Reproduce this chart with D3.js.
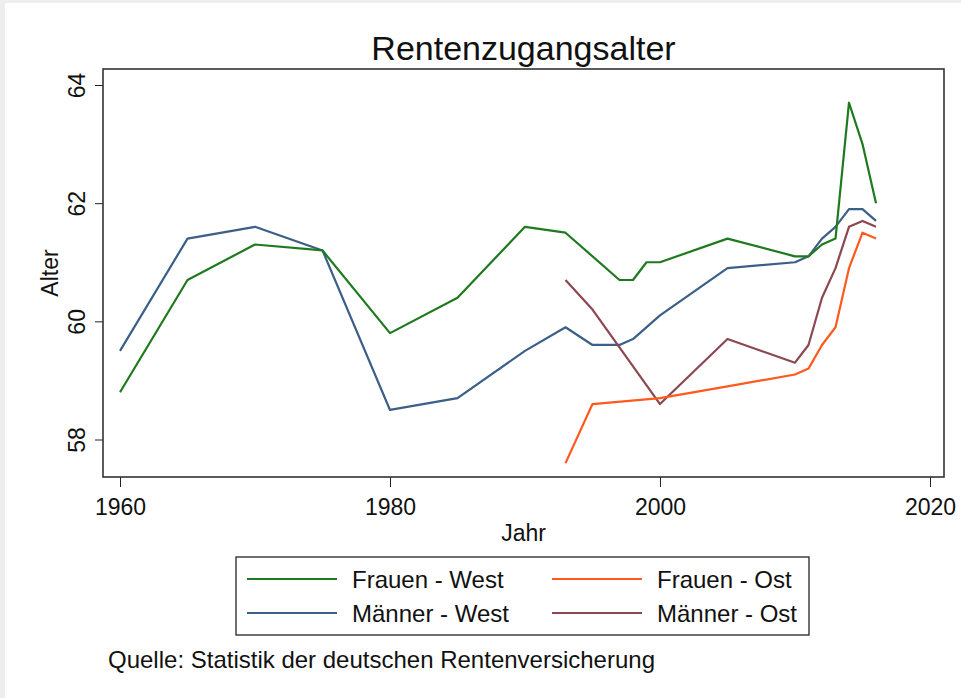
<!DOCTYPE html>
<html>
  <head>
    <meta charset="utf-8">
    <style>
      body {
        margin: 0;
        background: #eeeeee;
        font-family: "Liberation Sans", Arial, sans-serif;
      }
      svg text { fill: #111; }
      .series { fill: none; stroke-width: 2.2px; stroke-linejoin: round; }
    </style>
  </head>
  <body>
    <script src="https://d3js.org/d3.v7.min.js"></script>
    <script>
    // values
      var seriesNames = ["Frauen - West", "Männer - West", "Frauen - Ost", "Männer - Ost"];
      var seriesColors = ["#1f7a1f", "#3b5f86", "#ff5a1e", "#8c4750"];

      var yearsFrauenWest = [1960, 1965, 1970, 1975, 1980, 1985, 1990, 1993, 1997, 1998, 1999, 2000, 2005, 2010, 2011, 2012, 2013, 2014, 2015, 2016];
      var frauenWest = [58.8, 60.7, 61.3, 61.2, 59.8, 60.4, 61.6, 61.5, 60.7, 60.7, 61.0, 61.0, 61.4, 61.1, 61.1, 61.3, 61.4, 63.7, 63.0, 62.0];

      var yearsMaennerWest = [1960, 1965, 1970, 1975, 1980, 1985, 1990, 1993, 1995, 1997, 1998, 2000, 2005, 2010, 2011, 2012, 2013, 2014, 2015, 2016];
      var maennerWest = [59.5, 61.4, 61.6, 61.2, 58.5, 58.7, 59.5, 59.9, 59.6, 59.6, 59.7, 60.1, 60.9, 61.0, 61.1, 61.4, 61.6, 61.9, 61.9, 61.7];

      var yearsOst = [1993, 1995, 2000, 2005, 2010, 2011, 2012, 2013, 2014, 2015, 2016];
      var frauenOst = [57.6, 58.6, 58.7, 58.9, 59.1, 59.2, 59.6, 59.9, 60.9, 61.5, 61.4];
      var maennerOst = [60.7, 60.2, 58.6, 59.7, 59.3, 59.6, 60.4, 60.9, 61.6, 61.7, 61.6];

      var xTicks = [1960, 1980, 2000, 2020];
      var yTicks = [58, 60, 62, 64];

      var title = "Rentenzugangsalter", xTitle = "Jahr", yTitle = "Alter";
      var note = "Quelle: Statistik der deutschen Rentenversicherung";

    //layout
      var W = 961, H = 698;
      var box = {left: 103, right: 944, top: 69, bottom: 477};

      var x_scale = d3.scaleLinear().domain([1960, 2020]).range([120, 930]);
      var y_scale = d3.scaleLinear().domain([58, 64]).range([439.5, 85]);

      var svg = d3.select("body").append("svg")
          .attr("width", W).attr("height", H)
          .style("display", "block");

      svg.append("rect")
          .attr("x", 5).attr("y", 3)
          .attr("width", W - 5).attr("height", H - 3)
          .attr("fill", "#fff");

      var g = svg.append("g");

    //axes
      var x_axis = g.append("g")
          .attr("transform", "translate(0," + box.bottom + ")")
          .call(d3.axisBottom(x_scale).tickValues(xTicks).tickFormat(d => d).tickSize(10).tickPadding(12));
      x_axis.select(".domain").remove();
      x_axis.selectAll("line").attr("stroke", "#222");
      x_axis.selectAll("text").style("font-size", "23px").attr("fill", "#111").attr("font-family", null);

      var y_axis = g.append("g")
          .attr("transform", "translate(" + box.left + ",0)")
          .call(d3.axisLeft(y_scale).tickValues(yTicks).tickFormat(d => d).tickSize(8).tickPadding(0));
      y_axis.select(".domain").remove();
      y_axis.selectAll("line").attr("stroke", "#222");
      y_axis.selectAll("text")
          .style("font-size", "23px").attr("fill", "#111").attr("font-family", null)
          .attr("x", null).attr("dy", null)
          .attr("text-anchor", "middle")
          .attr("transform", "translate(-18,0) rotate(-90)");

    //frame
      g.append("rect")
          .attr("x", box.left).attr("y", box.top)
          .attr("width", box.right - box.left).attr("height", box.bottom - box.top)
          .attr("fill", "none").attr("stroke", "#333").attr("stroke-width", 1.6);

    //lines
      var line_generator = d3.line()
          .x(d => x_scale(d[0]))
          .y(d => y_scale(d[1]));

      var seriesData = [
        d3.zip(yearsFrauenWest, frauenWest),
        d3.zip(yearsMaennerWest, maennerWest),
        d3.zip(yearsOst, frauenOst),
        d3.zip(yearsOst, maennerOst)
      ];
      // draw order like the reference: green over blue at the right end
      var drawOrder = [1, 0, 3, 2];
      g.selectAll(".series")
          .data(drawOrder)
        .enter().append("path")
          .attr("class", "series")
          .attr("stroke", i => seriesColors[i])
          .attr("d", i => line_generator(seriesData[i]));

    //titles
      svg.append("text")
          .attr("x", (box.left + box.right) / 2).attr("y", 60)
          .attr("text-anchor", "middle")
          .style("font-size", "34px")
          .text(title);

      svg.append("text")
          .attr("x", (box.left + box.right) / 2).attr("y", 541)
          .attr("text-anchor", "middle")
          .style("font-size", "23px")
          .text(xTitle);

      svg.append("text")
          .attr("transform", "translate(58," + (box.top + box.bottom) / 2 + ") rotate(-90)")
          .attr("text-anchor", "middle")
          .style("font-size", "23px")
          .text(yTitle);

    //legend
      var legend = svg.append("g");
      legend.append("rect")
          .attr("x", 236).attr("y", 557)
          .attr("width", 573).attr("height", 78)
          .attr("fill", "#fff").attr("stroke", "#333").attr("stroke-width", 1.4);

      var legendOrder = [0, 2, 1, 3];
      legendOrder.forEach((s, k) => {
        var col = k % 2, row = Math.floor(k / 2);
        var lx = 247 + col * 305, ly = 579 + row * 34;
        legend.append("line")
            .attr("x1", lx).attr("x2", lx + 90)
            .attr("y1", ly).attr("y2", ly)
            .attr("stroke", seriesColors[s]).attr("stroke-width", 2.2);
        legend.append("text")
            .attr("x", lx + 105).attr("y", ly + 9)
            .style("font-size", "24px")
            .text(seriesNames[s]);
      });

    //note
      svg.append("text")
          .attr("x", 108).attr("y", 668)
          .style("font-size", "24px")
          .text(note);
    </script>
  </body>
</html>
